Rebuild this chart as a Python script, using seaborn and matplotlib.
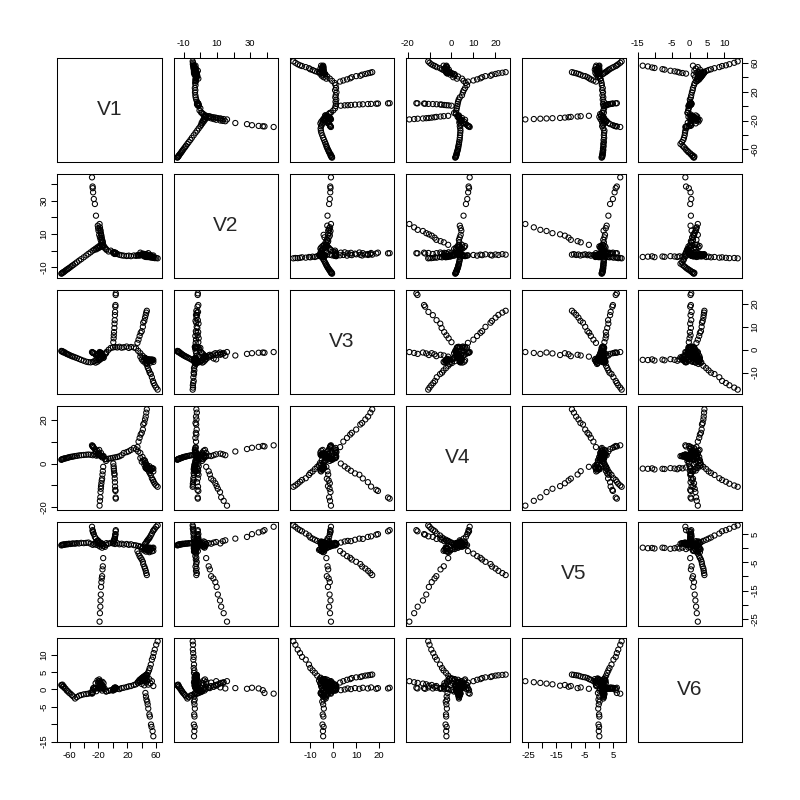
import matplotlib
matplotlib.use("Agg")
import numpy as np
import pandas as pd
import matplotlib.pyplot as plt
import seaborn as sns

# ── Data: points, grouped by branch ────────────────────────────
# order: arm A (22) | hub 1 (12) | arm B (16) | arm G (12) | backbone (18)
#        | arm C (13) | arm E (12) | hub 2 (12) | arm D (14) | arm H (12)
V1 = [-71.5, -70.8, -70, -69, -68.2, -67, -65.5, -64, -62.5, -61, -59, -57, -55, -52.5, -50, -47, -44, -40.5, -37, -34, -31, -28,
      -26, -24, -23, -21.5, -20, -19, -18, -16.5, -15, -13, -11, -9.5,
      -13, -14.5, -16, -17, -18, -19, -20, -20.5, -21, -23.5, -25, -26.5, -27.5, -28, -28.2, -29,
      -13.5, -14, -14.5, -15, -15.5, -16, -16.5, -16.8, -17.2, -17.5, -18, -18.5,
      -9, -6, -3, 0, 3, 6, 9, 12, 15, 19, 22, 25, 29, 32, 35, 38, 41, 44,
      0.5, 1.0, 1.2, 1.5, 2.0, 2.2, 2.5, 2.8, 3.0, 3.3, 3.5, 3.8, 4.0,
      34, 35.5, 37, 38.5, 40, 41.5, 42, 43.5, 44.5, 45.5, 46.2, 47,
      38, 40, 42, 43.5, 45, 46, 47.5, 49, 50.5, 52, 54, 56,
      44.5, 45.5, 46.5, 47.5, 48.5, 50, 51, 52.5, 54, 55.5, 56.5, 58, 60, 62,
      45, 45.8, 46.5, 47.5, 48.2, 49, 50.5, 51.2, 52.8, 53.5, 55, 56]
V2 = [-13.8, -13.6, -13.3, -13, -12.8, -12.4, -11.9, -11.4, -11, -10.5, -9.9, -9.2, -8.6, -7.8, -7, -6, -5.1, -4, -2.9, -1.9, -1, 0,
      0.5, 1.2, 0.8, 2.0, 1.5, 2.8, 2.2, 3.5, 2.5, 3.0, 1.8, 1.0,
      2, 3.5, 5, 6.5, 8, 9.5, 12, 13.5, 15, 21, 28, 31, 35, 37.5, 38.5, 44,
      3.5, 5, 5.7, 6.5, 7.8, 9, 9.8, 10.5, 11.8, 12.5, 14, 16,
      0.5, -0.5, 0, -1, -1.5, -2, -2.5, -2.8, -3, -3.2, -3, -3.3, -2.9, -3.1, -2.8, -2.5, -2.2, -2.8,
      -1.2, -1.0, -1.6, -1.3, -1.8, -1.1, -1.5, -2.0, -1.4, -1.7, -1.2, -1.6, -1.5,
      -2.8, -2.6, -3.0, -2.4, -2.7, -2.2, -2.5, -2.9, -2.3, -2.6, -2.1, -2.4,
      -1.2, -2.5, -1.8, -3.5, -2.2, -3.8, -2.8, -1.5, -3.2, -2.6, -3.6, -2.9,
      -3.0, -3.2, -3.5, -3.3, -3.8, -3.6, -4.0, -3.8, -4.2, -4.0, -4.3, -4.5, -4.4, -4.6,
      -3.2, -3.6, -3.4, -3.8, -3.5, -3.3, -3.7, -3.5, -3.9, -3.4, -3.6, -3.8]
V3 = [-0.5, -0.8, -0.6, -1, -1.2, -1.1, -1.5, -1.8, -2, -2.2, -2.5, -2.8, -3, -3.3, -3.6, -4, -4.4, -4.8, -5.2, -5.4, -5.5, -5.3,
      -5.0, -5.6, -4.5, -5.2, -3.8, -4.6, -3.2, -4.0, -2.6, -3.4, -2.0, -1.5,
      -3.5, -3, -3.3, -2.5, -3.8, -4.2, -2.2, -1.8, -2.6, -2.5, -1.8, -1.5, -1.3, -1.2, -1.3, -1.0,
      -3, -2.5, -2.2, -2.8, -2, -1.5, -2.3, -1.6, -1.2, -1.8, -1.4, -1.0,
      -1, 0, 0.8, 1, 1.2, 1, 1.3, 0.9, 1.1, 1.4, 0.8, 1.2, 1.0, 0.6, -0.5, -1.5, -2.6, -3.5,
      3.3, 5, 6.3, 7.7, 9.5, 11.4, 12.9, 15.1, 16.5, 18.8, 19.5, 23.9, 24.6,
      3, 4.4, 6, 7.4, 8.1, 10, 11.8, 12.6, 14, 15.2, 16.2, 17,
      -3.0, -4.2, -5.0, -4.6, -5.8, -4.0, -6.2, -5.2, -4.4, -5.6, -4.8, -5.3,
      -3.5, -4.2, -5.5, -7, -8, -9, -10, -10.6, -12, -13.6, -14.5, -15.5, -16.5, -17.4,
      -4.0, -4.5, -4.2, -4.8, -4.4, -4.1, -4.6, -4.3, -4.7, -4.2, -4.5, -4.4]
V4 = [1.7, 1.9, 2.0, 2.1, 2.2, 2.3, 2.4, 2.5, 2.7, 2.8, 3.0, 3.1, 3.2, 3.4, 3.5, 3.7, 3.8, 3.9, 4.0, 4.1, 4.0, 3.8,
      4.2, 5.0, 3.6, 5.8, 4.5, 6.2, 3.8, 4.8, 2.8, 3.4, 2.0, 1.2,
      3.0, 3.2, 3.6, 3.4, 3.8, 4.2, 4.5, 4.2, 3.8, 5.5, 6.6, 7.2, 7.6, 8.0, 7.8, 8.3,
      -1.5, -3.5, -5, -6.9, -7.7, -9, -10.3, -11.5, -13, -15.4, -17, -19.2,
      2, 2.2, 2.4, 2.6, 2.8, 3, 3.3, 3.8, 4.8, 5.2, 5.6, 6.2, 7.1, 6.5, 5.5, 4.8, 3.0, 1.5,
      0, -1.3, -2.3, -3.3, -4.5, -5.1, -6.8, -8.5, -10.5, -12, -12.5, -15.5, -16,
      7.5, 10, 11.7, 13.2, 14, 15.5, 17.8, 18.5, 20.1, 21.4, 23.2, 24.7,
      2.5, 0.8, 1.5, -0.5, 0.2, -1.8, -0.8, -2.6, -1.2, -3.2, -2.0, -3.6,
      1, 0.2, -0.8, -1.5, -2.5, -3.6, -4.3, -5.2, -6.7, -7.5, -8.3, -9.2, -10, -10.6,
      -1.8, -2.2, -2.0, -2.6, -2.3, -2.1, -2.5, -2.4, -2.7, -2.2, -2.4, -2.3]
V5 = [1.0, 1.2, 1.1, 1.3, 1.2, 1.4, 1.3, 1.5, 1.4, 1.6, 1.5, 1.6, 1.7, 1.6, 1.8, 1.7, 1.9, 1.8, 1.9, 2.0, 1.6, 1.2,
      1.5, 2.0, 1.2, 2.4, 1.0, 2.1, 0.6, 1.4, 0.2, 0.8, 0.5, 1.2,
      1.0, 1.5, 1.8, 1.6, 2.0, 2.2, 1.7, 2.5, 2.8, 3.4, 4.0, 5.0, 5.6, 6.0, 6.4, 7.6,
      -3.5, -6.4, -7.5, -9.9, -10.7, -12, -13.7, -16.4, -18.5, -20.7, -23, -26,
      1.8, 1.6, 1.9, 1.7, 1.5, 1.8, 1.4, 1.6, 1.3, 1.5, 1.2, 1.4, 1.1, 1.0, 0.8, 0.5, 0.2, -0.3,
      2.0, 2.4, 2.6, 2.5, 3.0, 3.4, 3.3, 4.0, 4.2, 4.8, 5.0, 6.0, 6.4,
      -1.0, -1.9, -2.8, -3.4, -4.0, -4.8, -5.6, -6.5, -7.2, -8.0, -8.8, -9.5,
      0.6, -0.2, 0.4, -0.8, -0.4, -1.2, -0.6, -1.0, -1.4, -0.5, -1.1, -0.9,
      1.5, 1.8, 2.2, 2.6, 3.0, 3.4, 3.8, 4.5, 5.2, 6.0, 6.4, 6.9, 7.6, 8.1,
      -0.3, 0.2, -0.1, 0.3, 0, -0.2, 0.1, 0.2, -0.1, 0.1, 0, 0.2]
V6 = [1.3, 1.1, 1.4, 0.8, 0.9, 0.4, 0.2, -0.3, -0.5, -0.9, -1.2, -1.6, -2.0, -2.6, -2.2, -1.8, -1.6, -1.4, -1.3, -1.2, -1.0, -0.8,
      0.5, 1.8, -0.5, 2.6, 1.2, 2.9, 0.2, 1.6, -0.3, 0.8, 0.1, -0.6,
      1.8, 2.2, 0.5, 2.0, 0.8, 2.4, 0.6, 1.9, 0.3, 0.4, 0.2, 0.5, 0.3, -0.2, -1.0, -1.2,
      0.2, 0.6, 0.4, 1.0, 0.8, 1.3, 1.1, 1.5, 1.7, 1.9, 2.1, 2.4,
      -0.5, -0.4, -0.2, -0.3, 0, 0.2, 0.1, 0.4, 0.5, 0.7, 0.9, 1.0, 1.3, 1.5, 2.0, 2.4, 2.8, 3.0,
      -0.2, 0, 0.3, 0.1, 0.4, 0.2, 0.5, 0.3, 0.6, 0.2, 0.4, 0.3, 0.5,
      2.0, 2.4, 2.8, 3.0, 3.3, 3.5, 3.6, 3.8, 4.0, 4.1, 4.2, 4.3,
      2.2, 1.6, 2.8, 1.2, 3.2, 2.0, 2.6, 1.4, 3.0, 1.8, 2.4, 1.0,
      2.5, 3.0, 3.4, 4.0, 4.8, 5.5, 6.2, 7.2, 8.6, 9.4, 10.5, 11.5, 12.9, 13.9,
      -1.0, -2.0, -2.9, -3.5, -4.3, -5.5, -7.2, -7.8, -10.1, -10.8, -12, -13.5]

cols = ["V1", "V2", "V3", "V4", "V5", "V6"]

# tick positions and which of them carry a label (R drops crowded ones)
TICKS = {
    "V1": ([-60, -40, -20, 0, 20, 40, 60], ["-60", "", "-20", "", "20", "", "60"]),
    "V2": ([-10, 0, 10, 20, 30, 40], ["-10", "", "10", "", "30", ""]),
    "V3": ([-10, 0, 10, 20], ["-10", "0", "10", "20"]),
    "V4": ([-20, -10, 0, 10, 20], ["-20", "", "0", "10", "20"]),
    "V5": ([-25, -20, -15, -10, -5, 0, 5], ["-25", "", "-15", "", "-5", "", "5"]),
    "V6": ([-15, -10, -5, 0, 5, 10], ["-15", "", "-5", "0", "5", "10"]),
}
V4_LEFT = ["-20", "", "0", "", "20"]

df = pd.DataFrame({"V1": V1, "V2": V2, "V3": V3, "V4": V4, "V5": V5, "V6": V6})

sns.set_theme(style="white", rc={
    "axes.edgecolor": "black", "axes.linewidth": 0.75,
    "xtick.color": "black", "ytick.color": "black",
    "xtick.direction": "out", "ytick.direction": "out",
})
plt.rcParams["font.family"] = ["Liberation Sans", "DejaVu Sans"]

g = sns.PairGrid(df, vars=cols, height=8 / 6, despine=False)
g.map_offdiag(sns.scatterplot, marker="o", s=14, facecolors="none",
              edgecolor="black", linewidth=0.75)

n = len(cols)
for k, c in enumerate(cols):
    vals = df[c]
    pad = (vals.max() - vals.min()) * 0.04
    lim = (vals.min() - pad, vals.max() + pad)
    ticks, labels = TICKS[c]
    g.axes[0, k].set_xlim(lim)
    g.axes[0, k].set_xticks(ticks, labels)
    g.axes[k, 0].set_ylim(lim)
    g.axes[k, 0].set_yticks(ticks, V4_LEFT if c == "V4" else labels)

for i in range(n):
    for j in range(n):
        ax = g.axes[i, j]
        ax.set_xlabel("")
        ax.set_ylabel("")
        for s in ax.spines.values():
            s.set_visible(True)
            s.set_color("black")
        bot = (i == n - 1) and (j % 2 == 0)
        top = (i == 0) and (j % 2 == 1)
        left = (j == 0) and (i % 2 == 1)
        right = (j == n - 1) and (i % 2 == 0)
        ax.tick_params(axis="x", bottom=bot, top=top, labelbottom=bot, labeltop=top,
                       length=4, width=0.75, pad=2.5, labelsize=6.8)
        ax.tick_params(axis="y", left=left, right=right, labelleft=left, labelright=right,
                       length=4, width=0.75, pad=2.5, labelsize=6.8, labelrotation=90)
        for t in ax.get_yticklabels():
            t.set_va("center")
        if i == j:
            ax.text(0.5, 0.5, cols[i], transform=ax.transAxes,
                    ha="center", va="center", fontsize=15)

g.figure.set_size_inches(8, 8)
g.figure.subplots_adjust(left=57.5 / 800, right=741.5 / 800,
                         bottom=1 - 741.5 / 800, top=1 - 57.5 / 800,
                         wspace=12 / 104, hspace=12 / 104)
g.figure.savefig("out.png", dpi=100)
